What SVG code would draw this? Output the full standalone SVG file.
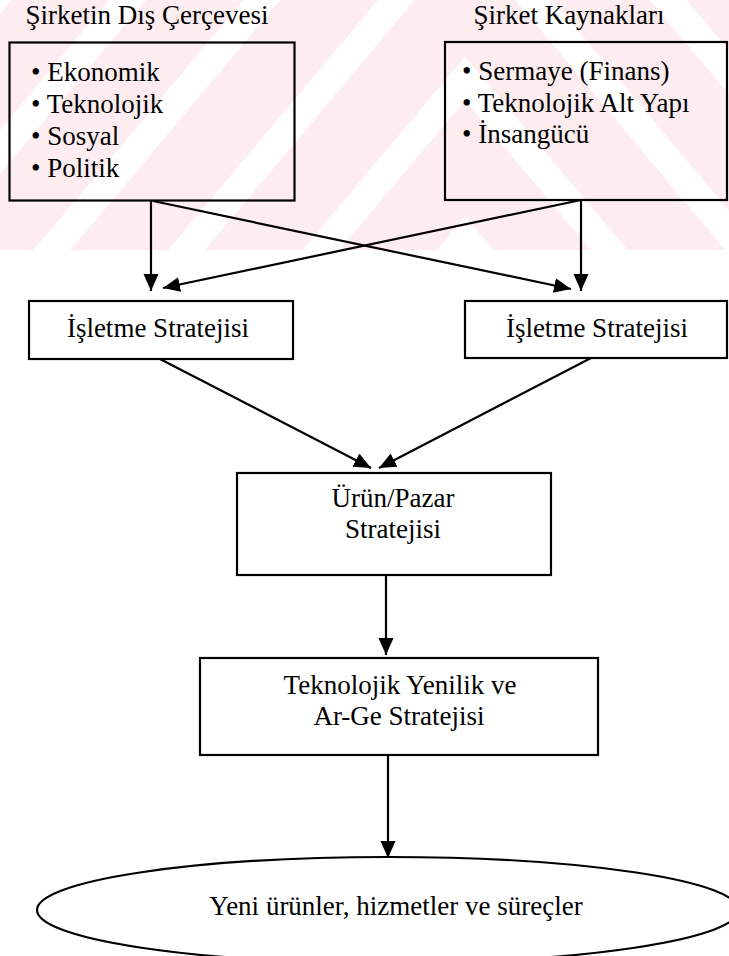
<svg xmlns="http://www.w3.org/2000/svg" width="729" height="956" viewBox="0 0 729 956">
  <defs>
    <style>
      .lbl { font-family: "Liberation Serif", "Times New Roman", serif; font-size: 27px; fill: #000; }
      .mid { text-anchor: middle; }
      .box { fill: none; stroke: #000; stroke-width: 2.2; }
      .edge { fill: none; stroke: #000; stroke-width: 2.2; }
    </style>
    <!-- diagonal band fills for the faint background mark -->
    <pattern id="bandsL" patternUnits="userSpaceOnUse" width="103" height="400" patternTransform="translate(321,250) rotate(40)">
      <rect x="0" y="0" width="103" height="400" fill="#fdedf0"/>
      <rect x="0" y="0" width="14" height="400" fill="#ffffff"/>
      <rect x="89" y="0" width="14" height="400" fill="#ffffff"/>
    </pattern>
    <pattern id="bandsR" patternUnits="userSpaceOnUse" width="103" height="400" patternTransform="translate(710,210) rotate(-40)">
      <rect x="0" y="0" width="103" height="400" fill="#fdedf0"/>
      <rect x="0" y="0" width="14" height="400" fill="#ffffff"/>
      <rect x="89" y="0" width="14" height="400" fill="#ffffff"/>
    </pattern>
    <marker id="arrow" markerUnits="userSpaceOnUse" markerWidth="18" markerHeight="16" refX="17" refY="7.5" orient="auto">
      <path d="M0,0 L17,7.5 L0,15 Z" fill="#000"/>
    </marker>
  </defs>

  <!-- background mark -->
  <g id="background">
    <rect x="0" y="0" width="465" height="250" fill="url(#bandsL)"/>
    <rect x="465" y="0" width="264" height="250" fill="url(#bandsR)"/>
  </g>

  <!-- connectors -->
  <g id="connectors">
    <line class="edge" x1="151" y1="201" x2="151" y2="291" marker-end="url(#arrow)"/>
    <line class="edge" x1="153" y1="201" x2="571" y2="289" marker-end="url(#arrow)"/>
    <line class="edge" x1="581" y1="200" x2="163" y2="288" marker-end="url(#arrow)"/>
    <line class="edge" x1="581" y1="200" x2="581" y2="291" marker-end="url(#arrow)"/>
    <line class="edge" x1="160" y1="359" x2="371" y2="468" marker-end="url(#arrow)"/>
    <line class="edge" x1="591" y1="358" x2="379" y2="468" marker-end="url(#arrow)"/>
    <line class="edge" x1="386" y1="575" x2="386" y2="655" marker-end="url(#arrow)"/>
    <line class="edge" x1="388" y1="755" x2="388" y2="858" marker-end="url(#arrow)"/>
  </g>

  <g id="dis-cerceve">
    <text class="lbl mid" x="147" y="24">Şirketin Dış Çerçevesi</text>
    <rect class="box" x="9.5" y="42.5" width="285" height="158"/>
    <text class="lbl" x="31" y="81">• Ekonomik</text>
    <text class="lbl" x="31" y="113">• Teknolojik</text>
    <text class="lbl" x="31" y="145">• Sosyal</text>
    <text class="lbl" x="31" y="177">• Politik</text>
  </g>

  <g id="kaynaklar">
    <text class="lbl mid" x="569" y="24">Şirket Kaynakları</text>
    <rect class="box" x="445" y="42" width="282" height="158"/>
    <text class="lbl" x="462" y="80">• Sermaye (Finans)</text>
    <text class="lbl" x="462" y="112">• Teknolojik Alt Yapı</text>
    <text class="lbl" x="462" y="143">• İnsangücü</text>
  </g>

  <g id="isletme-sol">
    <rect class="box" x="29" y="301" width="264" height="58"/>
    <text class="lbl mid" x="158" y="337">İşletme Stratejisi</text>
  </g>

  <g id="isletme-sag">
    <rect class="box" x="465" y="301" width="262" height="57"/>
    <text class="lbl mid" x="597" y="337">İşletme Stratejisi</text>
  </g>

  <g id="urun-pazar">
    <rect class="box" x="237" y="473" width="314" height="102"/>
    <text class="lbl mid" x="393" y="507">Ürün/Pazar</text>
    <text class="lbl mid" x="393" y="538">Stratejisi</text>
  </g>

  <g id="arge">
    <rect class="box" x="200" y="658" width="398" height="97"/>
    <text class="lbl mid" x="400" y="694">Teknolojik Yenilik ve</text>
    <text class="lbl mid" x="399" y="725">Ar-Ge Stratejisi</text>
  </g>

  <g id="sonuc">
    <ellipse class="box" cx="388" cy="910" rx="351" ry="53"/>
    <text class="lbl mid" x="396" y="915">Yeni ürünler, hizmetler ve süreçler</text>
  </g>
</svg>
